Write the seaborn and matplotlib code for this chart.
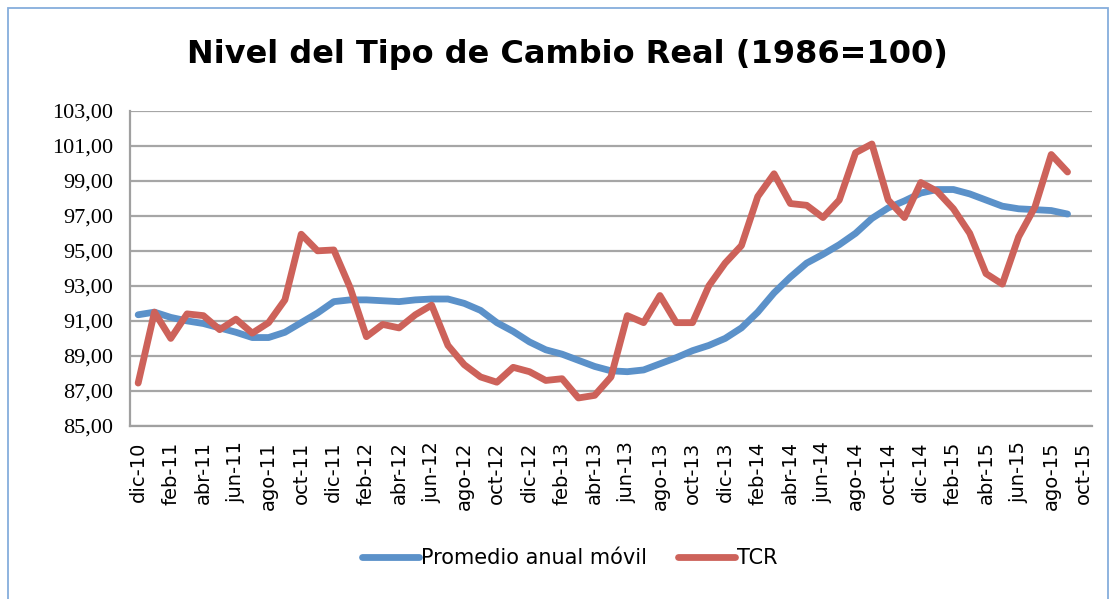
import matplotlib
matplotlib.use('Agg')
import matplotlib.pyplot as plt
import seaborn as sns
import pandas as pd
import numpy as np
from matplotlib.patches import Rectangle

categories = ['dic-10',
              'ene-11', 'feb-11', 'mar-11', 'abr-11', 'may-11', 'jun-11', 'jul-11', 'ago-11', 'sep-11', 'oct-11', 'nov-11', 'dic-11',
              'ene-12', 'feb-12', 'mar-12', 'abr-12', 'may-12', 'jun-12', 'jul-12', 'ago-12', 'sep-12', 'oct-12', 'nov-12', 'dic-12',
              'ene-13', 'feb-13', 'mar-13', 'abr-13', 'may-13', 'jun-13', 'jul-13', 'ago-13', 'sep-13', 'oct-13', 'nov-13', 'dic-13',
              'ene-14', 'feb-14', 'mar-14', 'abr-14', 'may-14', 'jun-14', 'jul-14', 'ago-14', 'sep-14', 'oct-14', 'nov-14', 'dic-14',
              'ene-15', 'feb-15', 'mar-15', 'abr-15', 'may-15', 'jun-15', 'jul-15', 'ago-15', 'sep-15', 'oct-15']

promedio = [91.35, 91.5, 91.2, 91.0, 90.85, 90.6, 90.35, 90.05, 90.05, 90.35, 90.9, 91.45,
            92.1, 92.2, 92.2, 92.15, 92.1, 92.2, 92.25, 92.25, 92.0, 91.6, 90.9, 90.4,
            89.8, 89.35, 89.1, 88.75, 88.4, 88.15, 88.1, 88.2, 88.55, 88.9, 89.3, 89.6,
            90.0, 90.6, 91.5, 92.6, 93.5, 94.3, 94.8, 95.35, 96.0, 96.85, 97.45, 97.85,
            98.3, 98.5, 98.5, 98.25, 97.9, 97.55, 97.4, 97.35, 97.3, 97.1]

tcr = [87.45, 91.5, 90.0, 91.4, 91.3, 90.5, 91.1, 90.3, 90.9, 92.2, 95.95, 95.0,
       95.05, 92.9, 90.1, 90.8, 90.6, 91.35, 91.9, 89.6, 88.5, 87.8, 87.5, 88.35,
       88.1, 87.6, 87.7, 86.6, 86.75, 87.8, 91.3, 90.9, 92.45, 90.9, 90.9, 93.0,
       94.3, 95.3, 98.1, 99.4, 97.7, 97.6, 96.9, 97.9, 100.6, 101.1, 97.9, 96.9,
       98.9, 98.4, 97.4, 96.0, 93.7, 93.1, 95.8, 97.5, 100.5, 99.5]

yticks = [85, 87, 89, 91, 93, 95, 97, 99, 101, 103]
series_names = ['Promedio anual móvil', 'TCR']
colors = {'Promedio anual móvil': '#5B91C9', 'TCR': '#CD625A'}
title = 'Nivel del Tipo de Cambio Real (1986=100)'

sns.set_style('white')
plt.rcParams['font.family'] = ['DejaVu Sans']
plt.rcParams['text.color'] = 'black'
plt.rcParams['xtick.labelcolor'] = 'black'
plt.rcParams['ytick.labelcolor'] = 'black'

W, H = 1113, 599
fig = plt.figure(figsize=(W / 100, H / 100), dpi=100)
ax = fig.add_axes([130 / W, 1 - 426 / H, (1092 - 130) / W, (426 - 110.7) / H])

df = pd.DataFrame({'idx': np.arange(len(tcr)), series_names[0]: promedio, series_names[1]: tcr})
long = df.melt(id_vars='idx', var_name='serie', value_name='valor')
sns.lineplot(data=long, x='idx', y='valor', hue='serie', hue_order=series_names,
             palette=colors, linewidth=4.9, ax=ax, legend=True,
             solid_capstyle='round', solid_joinstyle='round')

ax.set_xlim(-0.5, len(categories) - 0.5)
ax.set_ylim(yticks[0], yticks[-1])
ax.set_xlabel('')
ax.set_ylabel('')

# y axis
ax.set_yticks(yticks)
ax.set_yticklabels([f'{v:.2f}'.replace('.', ',') for v in yticks],
                   fontfamily='Liberation Serif', fontsize=16, color='black')
ax.tick_params(axis='y', which='major', length=7, width=1.3, color='#A0A0A0', pad=5)
ax.yaxis.grid(True, color='#A6A6A6', linewidth=1.6)
ax.xaxis.grid(False)

# x axis: tick marks at category boundaries, labels at every other category
ax.set_xticks(np.arange(-0.5, len(categories) - 1, 2))
ax.set_xticklabels([])
ax.set_xticks(np.arange(0, len(categories), 2), minor=True)
ax.set_xticklabels(categories[::2], minor=True, rotation=90, fontsize=14, color='black')
ax.tick_params(axis='x', which='major', length=7, width=1.3, color='#A0A0A0')
ax.tick_params(axis='x', which='minor', length=0, pad=11)

for s in ['top', 'right']:
    ax.spines[s].set_visible(False)
for s in ['left', 'bottom']:
    ax.spines[s].set_color('#A0A0A0')
    ax.spines[s].set_linewidth(1.6)

# legend
handles, labels = ax.get_legend_handles_labels()
leg = ax.legend(handles, labels, loc='center', bbox_to_anchor=(570 / W, 1 - 558 / H),
                bbox_transform=fig.transFigure, ncol=2, frameon=False, fontsize=15,
                handlelength=2.7, handletextpad=0.12, columnspacing=1.5)
for t in leg.get_texts():
    t.set_color('black')

fig.text(567 / W, 1 - 55 / H, title, ha='center', va='center', fontsize=23,
         fontweight='bold', color='black')

fig.patches.append(Rectangle((8 / W, -0.05), (1108 - 8) / W, (H - 8) / H + 0.05,
                             transform=fig.transFigure, fill=False, edgecolor='#86AEDC', linewidth=1.3))

fig.savefig('out.png', dpi=100)
